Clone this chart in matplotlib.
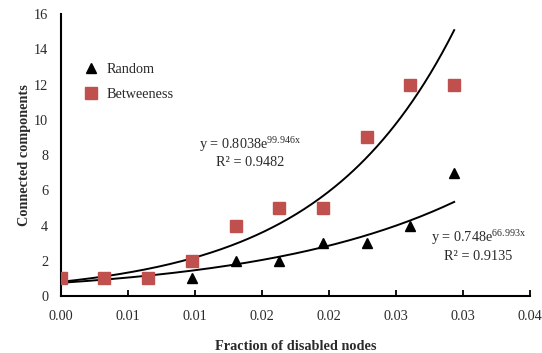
import matplotlib
matplotlib.use("Agg")
import matplotlib.pyplot as plt
import numpy as np

plt.rcParams['font.family'] = ['Liberation Serif', 'DejaVu Serif']
plt.rcParams['mathtext.fontset'] = 'custom'
plt.rcParams['mathtext.rm'] = 'Liberation Serif'
plt.rcParams['mathtext.it'] = 'Liberation Serif:italic'

# Data
fraction = [0.0, 0.00326, 0.00652, 0.00978, 0.01304, 0.0163, 0.01956, 0.02282, 0.02608, 0.02934]
random_cc = [1, 1, 1, 1, 2, 2, 3, 3, 4, 7]
betweenness_cc = [1, 1, 1, 2, 4, 5, 5, 9, 12, 12]
rand_a, rand_b = 0.748, 66.993
betw_a, betw_b = 0.8038, 99.946
xtick_vals = [0.0, 0.005, 0.010, 0.015, 0.020, 0.025, 0.030, 0.035]
xtick_labels = ["0.00", "0.01", "0.01", "0.02", "0.02", "0.03", "0.03", "0.04"]
ytick_vals = [0, 2, 4, 6, 8, 10, 12, 14, 16]

TXT = '#2a2a2a'
FS = 10.3

fig = plt.figure(figsize=(5.42, 3.53), dpi=100)
ax = fig.add_axes([0.112, 0.1615, 0.866, 0.7985])

xs = np.linspace(fraction[0], fraction[-1], 200)
ax.plot(xs, betw_a * np.exp(betw_b * xs), color='black', lw=1.4, zorder=2)
ax.plot(xs, rand_a * np.exp(rand_b * xs), color='black', lw=1.4, zorder=2)

ax.plot(fraction, random_cc, linestyle='none', marker='^', color='black',
        markersize=7.5, label='Random', zorder=3)
ax.plot(fraction, betweenness_cc, linestyle='none', marker='s', color='#C0504D',
        markersize=9, label='Betweeness', zorder=4)

ax.set_xlim(0, 0.035)
ax.set_ylim(0, 16)
ax.set_xticks(xtick_vals)
ax.set_xticklabels(xtick_labels)
ax.set_yticks(ytick_vals)
ax.tick_params(axis='x', direction='in', length=4, width=1.3, labelsize=FS, pad=10, colors='black')
ax.tick_params(axis='y', length=0, labelsize=FS, pad=9)
for lab in ax.get_xticklabels() + ax.get_yticklabels():
    lab.set_color(TXT)

for s in ['top', 'right']:
    ax.spines[s].set_visible(False)
for s in ['left', 'bottom']:
    ax.spines[s].set_linewidth(1.5)
    ax.spines[s].set_color('black')

ax.set_xlabel('Fraction of disabled nodes', fontsize=FS, fontweight='bold', labelpad=12, color=TXT)
ax.set_ylabel('Connected components', fontsize=FS, fontweight='bold', labelpad=2, color=TXT)

leg = ax.legend(loc='upper left', bbox_to_anchor=(0.049, 0.826), frameon=False,
                fontsize=FS, labelspacing=0.85, handletextpad=0.6, handlelength=1.0,
                borderaxespad=0, borderpad=0)
for t in leg.get_texts():
    t.set_color(TXT)

ax.text(0.01412, 8.58, r'y = 0.8038e$^{\mathrm{99.946x}}$', fontsize=FS, ha='center', va='center', color=TXT)
ax.text(0.01412, 7.56, 'R² = 0.9482', fontsize=FS, ha='center', va='center', color=TXT)
ax.text(0.03115, 3.30, r'y = 0.748e$^{\mathrm{66.993x}}$', fontsize=FS, ha='center', va='center', color=TXT)
ax.text(0.03115, 2.22, 'R² = 0.9135', fontsize=FS, ha='center', va='center', color=TXT)

fig.savefig('out.png', dpi=100)
